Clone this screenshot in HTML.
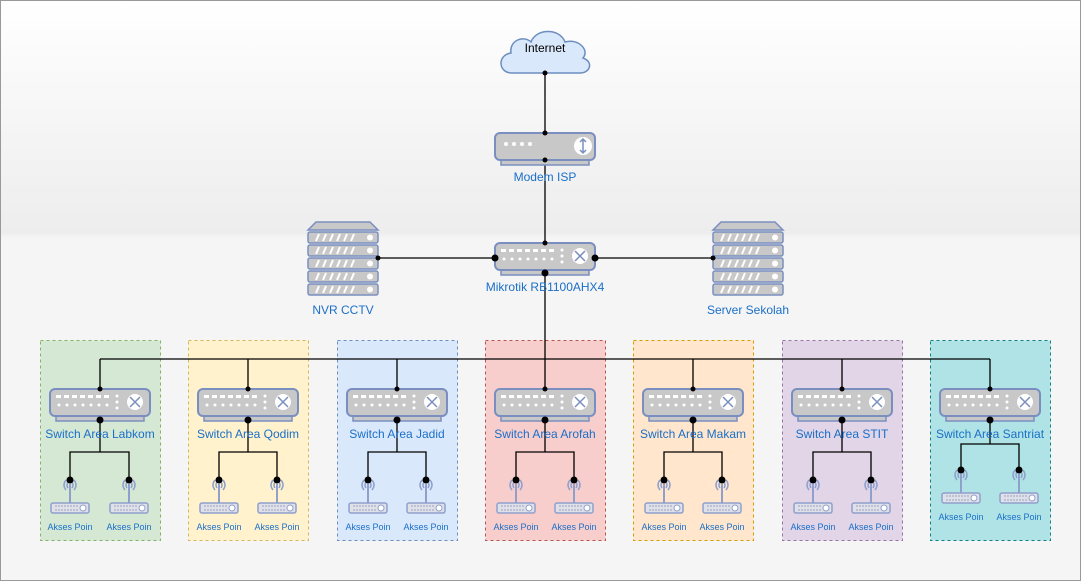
<!DOCTYPE html>
<html><head><meta charset="utf-8"><style>
html,body{margin:0;padding:0;background:#fff}
svg{display:block}
text{font-family:"Liberation Sans",sans-serif;fill:#1a6fc9}
</style></head><body>
<svg width="1081" height="581" viewBox="0 0 1081 581" xmlns="http://www.w3.org/2000/svg">
<defs>
<linearGradient id="bg" x1="0" y1="0" x2="0" y2="1">
<stop offset="0" stop-color="#ffffff"/><stop offset="0.4" stop-color="#ededed"/><stop offset="0.41" stop-color="#f5f5f5"/><stop offset="1" stop-color="#f5f5f5"/>
</linearGradient>
<g id="sw">
<rect x="-44" y="27" width="88" height="5" fill="#c8c8c8" stroke="#7a8fc0" stroke-width="1.5"/>
<rect x="-50" y="0" width="100" height="27" rx="5" fill="#c8c8c8" stroke="#7a8fc0" stroke-width="2"/>
<g fill="#fff">
<rect x="-44" y="6" width="5" height="3"/><rect x="-36" y="6" width="5" height="3"/><rect x="-28" y="6" width="5" height="3"/><rect x="-20" y="6" width="5" height="3"/><rect x="-12" y="6" width="5" height="3"/><rect x="-4" y="6" width="5" height="3"/><rect x="4" y="6" width="5" height="3"/>
<circle cx="-41" cy="16" r="1.5"/><circle cx="-33" cy="16" r="1.5"/><circle cx="-25" cy="16" r="1.5"/><circle cx="-17" cy="16" r="1.5"/><circle cx="-9" cy="16" r="1.5"/><circle cx="-1" cy="16" r="1.5"/><circle cx="7" cy="16" r="1.5"/>
<circle cx="17" cy="7" r="1.5"/><circle cx="17" cy="13" r="1.5"/><circle cx="17" cy="19" r="1.5"/>
<circle cx="35" cy="13" r="8"/>
</g>
<path d="M30 8 L40 18 M40 8 L30 18" stroke="#7a8fc0" stroke-width="1.5"/>
</g>
<g id="ap">
<path d="M0 4 V23" stroke="#8fa0cc" stroke-width="2"/>
<path d="M-4 0 Q-8 5 -4 10 M4 0 Q8 5 4 10 M-2 2 Q-4 5 -2 8 M2 2 Q4 5 2 8" stroke="#8fa0cc" stroke-width="1.5" fill="none"/>
<rect x="-19" y="23" width="38" height="10" rx="2" fill="#e0e0e8" stroke="#8fa0cc" stroke-width="1.5"/>
<path d="M-15 26 H8 M-15 30 H8" stroke="#b0b8d0" stroke-width="1.5" stroke-dasharray="2 1"/>
<circle cx="13" cy="28" r="3" fill="#fff" stroke="#8fa0cc"/>
</g>
<g id="srv">
<path d="M8 0 H62 L70 8 H0 Z" fill="#c8c8c8" stroke="#7a8fc0" stroke-width="1.5"/>
<g fill="#c8c8c8" stroke="#7a8fc0" stroke-width="1.5">
<rect x="0" y="10" width="70" height="11" rx="2"/><rect x="0" y="23" width="70" height="11" rx="2"/><rect x="0" y="36" width="70" height="11" rx="2"/><rect x="0" y="49" width="70" height="11" rx="2"/><rect x="0" y="62" width="70" height="11" rx="2"/>
</g>
<g stroke="#fff" stroke-width="2">
<path d="M8 19 L11 12 M15 19 L18 12 M22 19 L25 12 M29 19 L32 12 M36 19 L39 12 M43 19 L46 12"/>
<path d="M8 32 L11 25 M15 32 L18 25 M22 32 L25 25 M29 32 L32 25 M36 32 L39 25 M43 32 L46 25"/>
<path d="M8 45 L11 38 M15 45 L18 38 M22 45 L25 38 M29 45 L32 38 M36 45 L39 38 M43 45 L46 38"/>
<path d="M8 58 L11 51 M15 58 L18 51 M22 58 L25 51 M29 58 L32 51 M36 58 L39 51 M43 58 L46 51"/>
<path d="M8 71 L11 64 M15 71 L18 64 M22 71 L25 64 M29 71 L32 64 M36 71 L39 64 M43 71 L46 64"/>
</g>
<g fill="#fff"><circle cx="62" cy="15.5" r="3"/><circle cx="62" cy="28.5" r="3"/><circle cx="62" cy="41.5" r="3"/><circle cx="62" cy="54.5" r="3"/><circle cx="62" cy="67.5" r="3"/></g>
</g>
</defs>
<rect x="0.5" y="0.5" width="1080" height="580" fill="url(#bg)" stroke="#999"/>

<g stroke-dasharray="3 3" stroke-width="1">
<rect x="40.5" y="340.5" width="120" height="200" fill="#d5e8d4" stroke="#82b366"/>
<rect x="188.5" y="340.5" width="120" height="200" fill="#fff2cc" stroke="#d6b656"/>
<rect x="337.5" y="340.5" width="120" height="200" fill="#dae8fc" stroke="#6c8ebf"/>
<rect x="485.5" y="340.5" width="120" height="200" fill="#f8cecc" stroke="#b85450"/>
<rect x="633.5" y="340.5" width="120" height="200" fill="#ffe6cc" stroke="#d79b00"/>
<rect x="782.5" y="340.5" width="120" height="200" fill="#e1d5e7" stroke="#9673a6"/>
<rect x="930.5" y="340.5" width="120" height="200" fill="#b0e3e6" stroke="#0e8088"/>
</g>

<g stroke="#000" stroke-width="1.3" fill="none">
<path d="M545 73 V133 M545 160 V243 M378 258 H713 M545 270 V359 M100 359 H990"/>
<path d="M100 359 V389 M248 359 V389 M397 359 V389 M545 359 V389 M693 359 V389 M842 359 V389 M990 359 V389"/>
<path d="M100 420 V452 M70 480 V452 H129 V480"/>
<path d="M248 420 V452 M219 480 V452 H277 V480"/>
<path d="M397 420 V452 M368 480 V452 H426 V480"/>
<path d="M545 420 V452 M516 480 V452 H574 V480"/>
<path d="M693 420 V452 M664 480 V452 H722 V480"/>
<path d="M842 420 V452 M813 480 V452 H871 V480"/>
<path d="M990 420 V444 M961 470 V444 H1019 V470"/>
</g>

<path d="M512 73 C498 73 497 55 511 53 C509 40 524 35 531 42 C536 28 560 28 565 42 C578 38 590 50 583 58 C594 62 590 73 580 73 Z" fill="#dae8fc" stroke="#6c8ebf" stroke-width="1.5"/>
<text x="545" y="52" font-size="12" text-anchor="middle" style="fill:#000">Internet</text>

<rect x="501" y="160" width="88" height="5" fill="#c8c8c8" stroke="#7a8fc0" stroke-width="1.5"/>
<rect x="495" y="133" width="100" height="27" rx="5" fill="#c8c8c8" stroke="#7a8fc0" stroke-width="2"/>
<g fill="#fff"><circle cx="506" cy="144" r="2"/><circle cx="514" cy="144" r="2"/><circle cx="522" cy="144" r="2"/><circle cx="530" cy="144" r="2"/><circle cx="583" cy="146" r="9"/></g>
<path d="M583 140 V152 M580 142 L583 139 L586 142 M580 150 L583 153 L586 150" stroke="#7a8fc0" stroke-width="1.5" fill="none"/>
<text x="545" y="181" font-size="12" text-anchor="middle">Modem ISP</text>

<use href="#sw" x="545" y="243"/>
<text x="545" y="291" font-size="12" text-anchor="middle">Mikrotik RB1100AHX4</text>

<use href="#srv" x="308" y="222"/>
<text x="343" y="314" font-size="12" text-anchor="middle">NVR CCTV</text>
<use href="#srv" x="713" y="222"/>
<text x="748" y="314" font-size="12" text-anchor="middle">Server Sekolah</text>

<use href="#sw" x="100" y="389"/><use href="#sw" x="248" y="389"/><use href="#sw" x="397" y="389"/><use href="#sw" x="545" y="389"/><use href="#sw" x="693" y="389"/><use href="#sw" x="842" y="389"/><use href="#sw" x="990" y="389"/>
<g font-size="12" text-anchor="middle">
<text x="100" y="438">Switch Area Labkom</text>
<text x="248" y="438">Switch Area Qodim</text>
<text x="397" y="438">Switch Area Jadid</text>
<text x="545" y="438">Switch Area Arofah</text>
<text x="693" y="438">Switch Area Makam</text>
<text x="842" y="438">Switch Area STIT</text>
<text x="990" y="438">Switch Area Santriat</text>
</g>

<use href="#ap" x="70" y="480"/><use href="#ap" x="129" y="480"/>
<use href="#ap" x="219" y="480"/><use href="#ap" x="277" y="480"/>
<use href="#ap" x="368" y="480"/><use href="#ap" x="426" y="480"/>
<use href="#ap" x="516" y="480"/><use href="#ap" x="574" y="480"/>
<use href="#ap" x="664" y="480"/><use href="#ap" x="722" y="480"/>
<use href="#ap" x="813" y="480"/><use href="#ap" x="871" y="480"/>
<use href="#ap" x="961" y="470"/><use href="#ap" x="1019" y="470"/>
<g font-size="9" text-anchor="middle">
<text x="70" y="530">Akses Poin</text><text x="129" y="530">Akses Poin</text>
<text x="219" y="530">Akses Poin</text><text x="277" y="530">Akses Poin</text>
<text x="368" y="530">Akses Poin</text><text x="426" y="530">Akses Poin</text>
<text x="516" y="530">Akses Poin</text><text x="574" y="530">Akses Poin</text>
<text x="664" y="530">Akses Poin</text><text x="722" y="530">Akses Poin</text>
<text x="813" y="530">Akses Poin</text><text x="871" y="530">Akses Poin</text>
<text x="961" y="520">Akses Poin</text><text x="1019" y="520">Akses Poin</text>
</g>

<g fill="#000">
<circle cx="495" cy="258" r="3.5"/><circle cx="595" cy="258" r="3.5"/><circle cx="378" cy="258" r="2.5"/><circle cx="713" cy="258" r="2.5"/>
<circle cx="545" cy="273" r="3.5"/><circle cx="545" cy="73" r="2.5"/><circle cx="545" cy="133" r="2.5"/><circle cx="545" cy="160" r="2.5"/><circle cx="545" cy="243" r="2.5"/>
<circle cx="100" cy="420" r="3.5"/><circle cx="248" cy="420" r="3.5"/><circle cx="397" cy="420" r="3.5"/><circle cx="545" cy="420" r="3.5"/><circle cx="693" cy="420" r="3.5"/><circle cx="842" cy="420" r="3.5"/><circle cx="990" cy="420" r="3.5"/>
<circle cx="100" cy="389" r="2.5"/><circle cx="248" cy="389" r="2.5"/><circle cx="397" cy="389" r="2.5"/><circle cx="545" cy="389" r="2.5"/><circle cx="693" cy="389" r="2.5"/><circle cx="842" cy="389" r="2.5"/><circle cx="990" cy="389" r="2.5"/>
<circle cx="70" cy="480" r="3.5"/><circle cx="129" cy="480" r="3.5"/><circle cx="219" cy="480" r="3.5"/><circle cx="277" cy="480" r="3.5"/><circle cx="368" cy="480" r="3.5"/><circle cx="426" cy="480" r="3.5"/><circle cx="516" cy="480" r="3.5"/><circle cx="574" cy="480" r="3.5"/><circle cx="664" cy="480" r="3.5"/><circle cx="722" cy="480" r="3.5"/><circle cx="813" cy="480" r="3.5"/><circle cx="871" cy="480" r="3.5"/><circle cx="961" cy="470" r="3.5"/><circle cx="1019" cy="470" r="3.5"/>
</g>
</svg>
</body></html>
